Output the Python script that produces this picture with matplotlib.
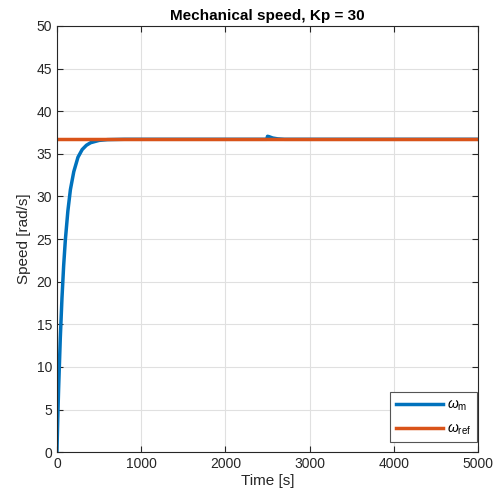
import matplotlib
matplotlib.use("Agg")
import matplotlib.pyplot as plt

# data
t_m = [0, 10, 20, 40, 60, 80, 100, 130, 160, 200, 250, 300, 350, 400, 500, 600, 800,
       2490, 2500, 2520, 2560, 2620, 2700, 5000]
w_m = [0, 3.95, 7.45, 13.4, 18.1, 21.9, 24.9, 28.3, 30.8, 32.9, 34.6, 35.5, 36.0, 36.3,
       36.57, 36.66, 36.7, 36.7, 37.05, 37.0, 36.85, 36.75, 36.7, 36.7]
t_ref = [0, 5000]
w_ref = [36.7, 36.7]
xticks = [0, 1000, 2000, 3000, 4000, 5000]
yticks = [0, 5, 10, 15, 20, 25, 30, 35, 40, 45, 50]

plt.rcParams['font.family'] = ['Liberation Sans', 'DejaVu Sans']
plt.rcParams['mathtext.fontset'] = 'custom'
plt.rcParams['mathtext.rm'] = 'Liberation Sans'
plt.rcParams['mathtext.it'] = 'Liberation Sans:italic'
fig = plt.figure(figsize=(4.95, 4.98), dpi=100)
ax = fig.add_axes([0.115, 0.092, 0.851, 0.856])
ax.plot(t_m, w_m, color='#0072BD', lw=2.5, label=r'$\omega_\mathrm{m}$')
ax.plot(t_ref, w_ref, color='#D95319', lw=2.5, label=r'$\omega_\mathrm{ref}$')
ax.set_xlim(0, 5000)
ax.set_ylim(0, 50)
ax.set_xticks(xticks)
ax.set_yticks(yticks)
ax.grid(True, color='#e0e0e0', lw=0.8)
ax.set_axisbelow(True)
ax.tick_params(direction='in', top=True, right=True, labelsize=10, colors='#262626', length=4)
for s in ax.spines.values():
    s.set_color('#262626')
    s.set_linewidth(0.8)
ax.set_xlabel('Time [s]', fontsize=11, color='#262626', labelpad=2)
ax.set_ylabel('Speed [rad/s]', fontsize=11, color='#262626', labelpad=4)
ax.set_title('Mechanical speed, Kp = 30', fontsize=11, fontweight='bold', pad=4)
leg = ax.legend(loc='lower right', bbox_to_anchor=(0.997, 0.023), fontsize=10,
                handlelength=3.4, fancybox=False,
                edgecolor='#555555', framealpha=1, borderpad=0.4, labelspacing=0.6,
                handletextpad=0.3, borderaxespad=0)
leg.get_frame().set_linewidth(0.8)
fig.savefig('out.png', dpi=100)
